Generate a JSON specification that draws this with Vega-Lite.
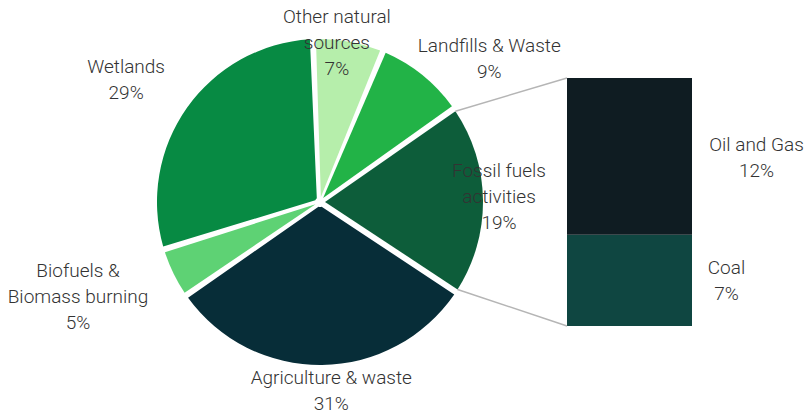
{
  "$schema": "https://vega.github.io/schema/vega-lite/v6.json",
  "width": 806,
  "height": 414,
  "padding": 0,
  "autosize": {"type": "none"},
  "background": "white",
  "config": {"view": {"stroke": null}, "font": "Roboto"},
  "params": [
    {"name": "cx", "value": 320},
    {"name": "cy", "value": 202},
    {"name": "R", "value": 163},
    {"name": "t0", "value": -0.0436},
    {"name": "gap", "value": 0.037}
  ],
  "datasets": {
    "sources": [
      {"category": "Other natural sources", "label": "Other natural\nsources\n7%", "value": 7, "order": 0},
      {"category": "Landfills & Waste", "label": "Landfills & Waste\n9%", "value": 9, "order": 1},
      {"category": "Fossil fuels activities", "label": "Fossil fuels\nactivities\n19%", "value": 19, "order": 2},
      {"category": "Agriculture & waste", "label": "Agriculture & waste\n31%", "value": 31, "order": 3},
      {"category": "Biofuels & Biomass burning", "label": "Biofuels &\nBiomass burning\n5%", "value": 5, "order": 4},
      {"category": "Wetlands", "label": "Wetlands\n29%", "value": 29, "order": 5}
    ],
    "fossil": [
      {"parent": "Fossil fuels activities", "category": "Coal", "label": "Coal\n7%", "value": 7, "order": 0},
      {"parent": "Fossil fuels activities", "category": "Oil and Gas", "label": "Oil and Gas\n12%", "value": 12, "order": 1}
    ],
    "one": [{"link": "fossil"}]
  },
  "layer": [
    {
      "data": {"name": "sources"},
      "mark": {"type": "arc", "x": {"expr": "cx"}, "y": {"expr": "cy"}, "outerRadius": {"expr": "R"}, "innerRadius": 5, "padAngle": {"expr": "gap"}},
      "encoding": {
        "theta": {"field": "value", "type": "quantitative", "stack": true, "scale": {"domain": [0, 100], "range": [-0.0436, 6.2396]}},
        "order": {"field": "order", "type": "quantitative"},
        "color": {
          "field": "category", "type": "nominal", "legend": null,
          "scale": {
            "domain": ["Other natural sources", "Landfills & Waste", "Fossil fuels activities", "Agriculture & waste", "Biofuels & Biomass burning", "Wetlands", "Coal", "Oil and Gas"],
            "range": ["#b6eeab", "#22b347", "#0d5d3a", "#072d38", "#5ed274", "#078a43", "#0f4641", "#0f1c22"]
          }
        }
      }
    },
    {
      "data": {"name": "sources"},
      "mark": {
        "type": "text", "x": {"expr": "cx"}, "y": {"expr": "cy"},
        "radius": {"expr": "[159,217,179,189,259,229][datum.order]"},
        "dx": {"expr": "[-11,33,0,9,-9,-7][datum.order]"},
        "dy": {"expr": "[-28,13,-29,-13,-44,-3][datum.order]"},
        "lineBreak": "\n", "fontSize": 19, "lineHeight": 26, "font": "Roboto", "fontWeight": 300,
        "fill": "#333333", "align": "center", "baseline": "middle"
      },
      "encoding": {
        "theta": {"field": "value", "type": "quantitative", "stack": true},
        "order": {"field": "order", "type": "quantitative"},
        "text": {"field": "label", "type": "nominal"}
      }
    },
    {
      "data": {"name": "fossil"},
      "mark": {"type": "bar"},
      "encoding": {
        "x": {"field": "parent", "type": "nominal", "axis": null, "scale": {"range": [567, 692], "paddingInner": 0, "paddingOuter": 0}},
        "y": {"field": "value", "type": "quantitative", "stack": true, "axis": null, "scale": {"domain": [0, 19], "range": [326, 78], "nice": false, "zero": true}},
        "order": {"field": "order", "type": "quantitative"},
        "color": {
          "field": "category", "type": "nominal", "legend": null,
          "scale": {
            "domain": ["Other natural sources", "Landfills & Waste", "Fossil fuels activities", "Agriculture & waste", "Biofuels & Biomass burning", "Wetlands", "Coal", "Oil and Gas"],
            "range": ["#b6eeab", "#22b347", "#0d5d3a", "#072d38", "#5ed274", "#078a43", "#0f4641", "#0f1c22"]
          }
        }
      }
    },
    {
      "data": {"name": "fossil"},
      "mark": {
        "type": "text", "dx": {"expr": "[97,127][datum.order]"}, "dy": {"expr": "[33,67][datum.order]"},
        "lineBreak": "\n", "fontSize": 19, "lineHeight": 26, "font": "Roboto", "fontWeight": 300,
        "fill": "#333333", "align": "center", "baseline": "middle"
      },
      "encoding": {
        "x": {"field": "parent", "type": "nominal"},
        "y": {"field": "value", "type": "quantitative", "stack": true},
        "order": {"field": "order", "type": "quantitative"},
        "text": {"field": "label", "type": "nominal"}
      }
    },
    {
      "data": {"name": "one"},
      "mark": {"type": "rule", "stroke": "#b5b5b5", "strokeWidth": 1.5},
      "encoding": {
        "x": {"value": {"expr": "cx + R*sin(t0 + 2*PI*0.16 + gap/2)"}},
        "y": {"value": {"expr": "cy - R*cos(t0 + 2*PI*0.16 + gap/2)"}},
        "x2": {"value": 567},
        "y2": {"value": 78}
      }
    },
    {
      "data": {"name": "one"},
      "mark": {"type": "rule", "stroke": "#b5b5b5", "strokeWidth": 1.5},
      "encoding": {
        "x": {"value": {"expr": "cx + R*sin(t0 + 2*PI*0.35 - gap/2)"}},
        "y": {"value": {"expr": "cy - R*cos(t0 + 2*PI*0.35 - gap/2)"}},
        "x2": {"value": 567},
        "y2": {"value": 326}
      }
    }
  ]
}
